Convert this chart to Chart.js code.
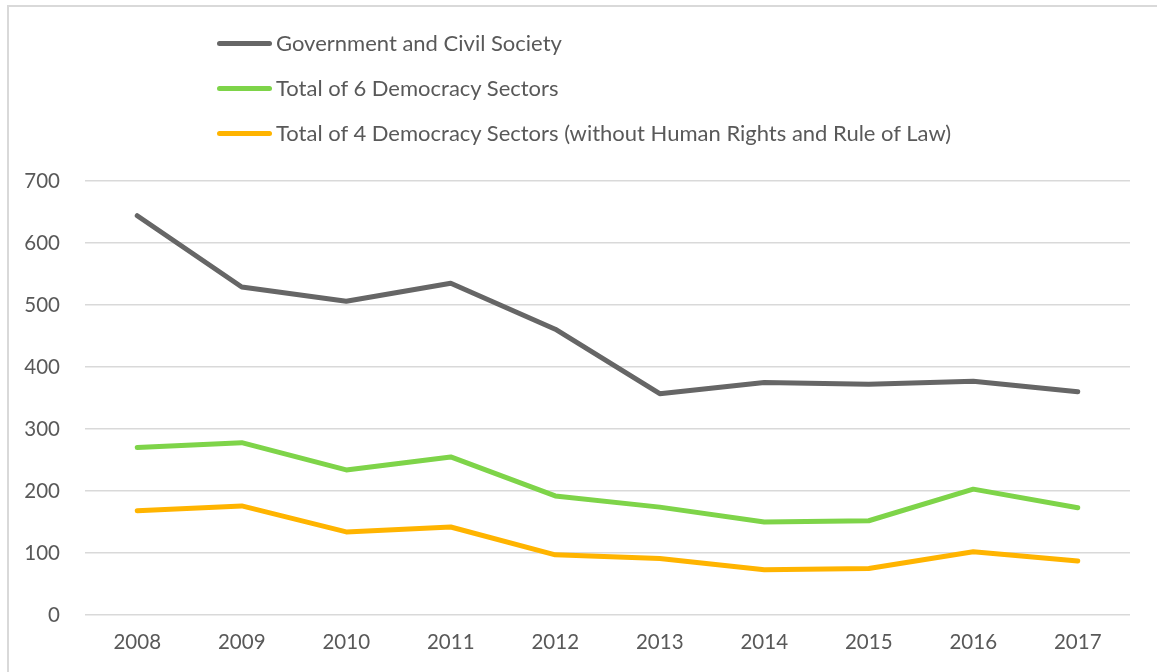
<!DOCTYPE html>
<html>
<head>
    <title>Democracy Sectors</title>
    <script src="https://cdn.jsdelivr.net/npm/chart.js"></script>
    <style>
        body {
            margin: 0;
            background: #fff;
            font-family: Lato, "Open Sans", sans-serif;
        }
        .frame {
            position: absolute;
            left: 7px;
            top: 5px;
            width: 1160px;
            height: 680px;
            border-left: 2px solid #d9d9d9;
            border-top: 2px solid #d9d9d9;
        }
        .legend {
            position: absolute;
            left: 217px;
            top: 29px;
            color: #595959;
            font-size: 22px;
            line-height: 28px;
        }
        .legend div {
            height: 45px;
            display: flex;
            align-items: flex-start;
        }
        .legend span.swatch {
            display: inline-block;
            width: 55px;
            height: 5px;
            border-radius: 3px;
            margin-top: 12px;
            margin-right: 4px;
        }
        #wrap {
            position: absolute;
            left: 0;
            top: 0;
            width: 1157px;
            height: 672px;
        }
    </style>
</head>
<body>
    <div class="frame"></div>
    <div id="wrap"><canvas id="lineChart" width="1157" height="672"></canvas></div>
    <div class="legend" id="legend"></div>

    <script>
        const years = ['2008', '2009', '2010', '2011', '2012', '2013', '2014', '2015', '2016', '2017'];
        const govCivil = [644, 529, 506, 535, 461, 357, 375, 372, 377, 360];
        const sixSectors = [270, 278, 234, 255, 192, 174, 150, 152, 203, 173];
        const fourSectors = [168, 176, 134, 142, 97, 91, 73, 75, 102, 87];

        const seriesNames = [
            'Government and Civil Society',
            'Total of 6 Democracy Sectors',
            'Total of 4 Democracy Sectors (without Human Rights and Rule of Law)'
        ];
        const seriesColors = ['#666666', '#7ed449', '#ffb400'];
        const seriesData = [govCivil, sixSectors, fourSectors];

        const datasets = seriesData.map((d, i) => ({
            label: seriesNames[i],
            data: d,
            borderColor: seriesColors[i],
            backgroundColor: seriesColors[i],
            borderWidth: 5,
            borderCapStyle: 'round',
            borderJoinStyle: 'round',
            pointRadius: 0,
            tension: 0
        }));

        // legend drawn as html, stacked like the original
        const legendEl = document.getElementById('legend');
        seriesNames.forEach((name, i) => {
            const row = document.createElement('div');
            row.innerHTML = '<span class="swatch" style="background:' + seriesColors[i] + '"></span>' + name;
            legendEl.appendChild(row);
        });

        const ctx = document.getElementById('lineChart').getContext('2d');
        new Chart(ctx, {
            type: 'line',
            data: { labels: years, datasets: datasets },
            options: {
                responsive: false,
                animation: false,
                layout: { padding: { top: 181, right: 27, bottom: 0, left: 0 } },
                plugins: {
                    legend: { display: false },
                    tooltip: { enabled: false }
                },
                scales: {
                    x: {
                        offset: true,
                        grid: { display: false, drawTicks: false },
                        border: { display: false },
                        ticks: {
                            color: '#595959',
                            font: { family: 'Lato', size: 20.5 },
                            padding: 15,
                            maxRotation: 0
                        },
                        afterFit: (scale) => { scale.height = 57; }
                    },
                    y: {
                        min: 0,
                        max: 700,
                        grid: { color: '#d9d9d9', lineWidth: 1.5, drawTicks: false },
                        border: { display: false },
                        ticks: {
                            stepSize: 100,
                            color: '#595959',
                            font: { family: 'Lato', size: 20.5 },
                            padding: 25
                        },
                        afterFit: (scale) => { scale.width = 85; }
                    }
                }
            }
        });
    </script>
</body>
</html>
